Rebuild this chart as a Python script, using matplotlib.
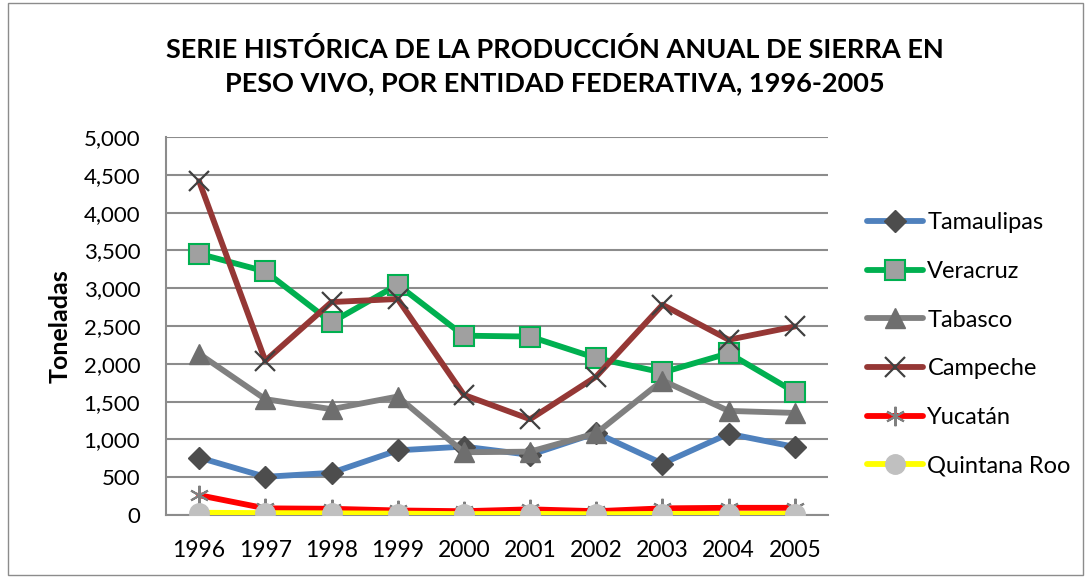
import matplotlib
matplotlib.use("Agg")
import matplotlib.pyplot as plt
from matplotlib.ticker import FuncFormatter, MultipleLocator
from matplotlib.patches import Rectangle

plt.rcParams['font.family'] = ['Lato', 'DejaVu Sans']

years = ["1996", "1997", "1998", "1999", "2000", "2001", "2002", "2003", "2004", "2005"]

tamaulipas = [760, 505, 558, 855, 905, 795, 1085, 680, 1075, 900]
veracruz = [3455, 3222, 2548, 3046, 2372, 2360, 2075, 1885, 2140, 1625]
tabasco = [2132, 1532, 1400, 1567, 830, 838, 1082, 1779, 1377, 1350]
campeche = [4415, 2040, 2817, 2857, 1589, 1267, 1832, 2781, 2318, 2494]
yucatan = [262, 88, 82, 60, 50, 75, 50, 88, 95, 95]
quintana_roo = [30, 25, 22, 18, 12, 15, 10, 15, 15, 15]

title = "SERIE HISTÓRICA DE LA PRODUCCIÓN ANUAL DE SIERRA EN\nPESO VIVO, POR ENTIDAD FEDERATIVA, 1996-2005"

fig = plt.figure(figsize=(10.91, 5.78), dpi=100)
W, H = 1091, 578
ax = fig.add_axes([166 / W, 1 - 515 / H, (828 - 166) / W, (515 - 137) / H])

x = list(range(len(years)))

series = [
    ("Tamaulipas", tamaulipas, dict(color="#4F81BD", marker="D", ms=11,
                                    mfc="#4D4D4D", mec="#4D4D4D", mew=1)),
    ("Veracruz", veracruz, dict(color="#00B050", marker="s", ms=14,
                                mfc="#A0A0A0", mec="#00B050", mew=1.5)),
    ("Tabasco", tabasco, dict(color="#808080", marker="^", ms=15,
                              mfc="#6E6E6E", mec="#6E6E6E", mew=1)),
    ("Campeche", campeche, dict(color="#953735", marker="x", ms=14,
                                mfc="#404040", mec="#404040", mew=1.6)),
    ("Yucatán", yucatan, dict(color="#FF0000", marker=(6, 2, 0), ms=14,
                              mfc="#808080", mec="#808080", mew=1.5)),
    ("Quintana Roo", quintana_roo, dict(color="#FFFF00", marker="o", ms=14,
                                        mfc="#C0C0C0", mec="#C0C0C0", mew=1)),
]

for name, vals, style in series:
    ax.plot(x, vals, lw=4.2, label=name, solid_capstyle="round", zorder=3, **style)

ax.set_xlim(-0.5, len(years) - 0.5)
ax.set_ylim(0, 5000)
ax.yaxis.set_major_locator(MultipleLocator(500))
ax.yaxis.set_major_formatter(FuncFormatter(lambda v, p: f"{int(v):,}"))
ax.set_xticks(x)
ax.set_xticklabels(years)
ax.tick_params(axis="both", length=0, colors="black")
ax.tick_params(axis="y", labelsize=16, pad=18.5)
ax.tick_params(axis="x", labelsize=16.5, pad=18)

ax.grid(axis="y", color="#8C8C8C", lw=1.5, zorder=0)
ax.set_axisbelow(True)
for side in ("top", "right"):
    ax.spines[side].set_visible(False)
for side in ("left", "bottom"):
    ax.spines[side].set_color("#8C8C8C")
    ax.spines[side].set_linewidth(1.5)

ax.set_ylabel("Toneladas", fontsize=18, fontweight="bold", labelpad=9)

fig.text(555 / W, 1 - 66 / H, title, ha="center", va="center",
         fontsize=19.5, fontweight="bold", linespacing=1.45)

leg = ax.legend(loc="upper left", bbox_to_anchor=(858 / W, 1 - 203 / H),
                bbox_transform=fig.transFigure, frameon=False, fontsize=17,
                handlelength=2.37, handletextpad=0.17, labelspacing=1.17,
                numpoints=1, borderaxespad=0)

fig.patches.append(Rectangle((8 / W, 3 / H), (1083 - 8) / W, (575 - 3) / H,
                             transform=fig.transFigure, fill=False,
                             edgecolor="#8C8C8C", lw=1))

fig.savefig("out.png", dpi=100, facecolor="white")
